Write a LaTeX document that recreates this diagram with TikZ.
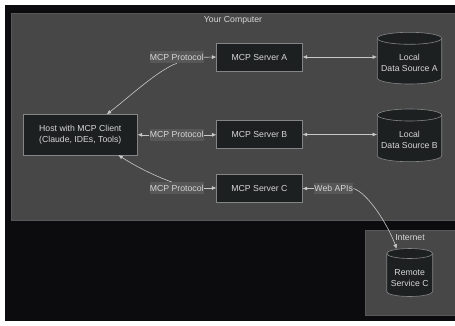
\documentclass[tikz,border=0pt]{standalone}
\usepackage{fontspec}
\setmainfont{Liberation Sans}
\usetikzlibrary{arrows.meta,calc}
\definecolor{bgdark}{HTML}{0C0C0F}
\definecolor{clus}{HTML}{474747}
\definecolor{clusline}{HTML}{575757}
\definecolor{nodefill}{HTML}{1C2021}
\definecolor{nodeline}{HTML}{858585}
\definecolor{txtc}{HTML}{D6D6D6}
\definecolor{lblbg}{HTML}{575757}
\definecolor{wire}{HTML}{C8C8C8}
\newcommand\mycyl[5]{%
  \pgfmathsetmacro\cyXl{#1-#2}\pgfmathsetmacro\cyXr{#1+#2}%
  \pgfmathsetmacro\cyKx{0.5523*#2}\pgfmathsetmacro\cyKy{0.5523*#5}%
  \pgfmathsetmacro\cyYb{#4+#5}%
  \pgfmathsetmacro\cyXa{#1-\cyKx}\pgfmathsetmacro\cyXc{#1+\cyKx}%
  \pgfmathsetmacro\cyYk{#4+\cyKy}%
  \filldraw[cyl] (\cyXl,#3) -- (\cyXl,#4) .. controls (\cyXl,\cyYk) and (\cyXa,\cyYb) .. (#1,\cyYb) .. controls (\cyXc,\cyYb) and (\cyXr,\cyYk) .. (\cyXr,#4) -- (\cyXr,#3);
  \filldraw[cyl] (#1,#3) ellipse [x radius=#2pt, y radius=#5pt];
}
\begin{document}
\begin{tikzpicture}[x=1pt,y=-1pt,
  font=\fontsize{8.7}{11.3}\selectfont,
  box/.style={draw=nodeline, fill=nodefill, text=txtc, line width=0.6pt, align=center, inner sep=0pt},
  cylbox/.style={text=txtc, align=center, inner sep=0pt},
  elabel/.style={fill=lblbg, text=txtc, inner xsep=0.3pt, inner ysep=0pt, minimum height=11.7pt},
  conn/.style={draw=wire, line width=0.6pt, -{Latex[length=4.5pt,width=4pt]}},
  bconn/.style={draw=wire, line width=0.6pt, {Latex[length=4.5pt,width=4pt]}-{Latex[length=4.5pt,width=4pt]}},
  cyl/.style={draw=nodeline, fill=nodefill, line width=0.6pt},
  clusterbox/.style={fill=clus, draw=clusline, line width=0.6pt},
  ctitle/.style={text=txtc, inner sep=0pt}
]
\useasboundingbox (0,0) rectangle (455,325);
\fill[white] (0,0) rectangle (455,325);
\fill[bgdark] (5,5) rectangle (456,321);
% clusters
\path[clusterbox] (11,13) rectangle (457,220.7);
\path[clusterbox] (365,230.7) rectangle (457,315);
\node[ctitle] (tyc) at (233,20) {Your Computer};
\node[ctitle] (tin) at (410,237.5) {Internet};
% cylinders
\mycyl{409.5}{32.2}{38.3}{78}{6}
\mycyl{409.5}{32.2}{115}{155.7}{6}
\mycyl{409.7}{23}{253.5}{291.5}{5}
% nodes
\node[box, minimum width=114pt, minimum height=40.7pt] (host) at (80.3,134.7) {Host with MCP Client\\(Claude, IDEs, Tools)};
\node[box, minimum width=85.6pt, minimum height=27.7pt] (sa) at (259.5,57) {MCP Server A};
\node[box, minimum width=85.6pt, minimum height=27.7pt] (sb) at (259.5,134.5) {MCP Server B};
\node[box, minimum width=85.6pt, minimum height=27.7pt] (sc) at (259.5,188) {MCP Server C};
\node[cylbox, minimum width=64.4pt, minimum height=40pt] (dsa) at (409.5,62.8) {Local\\Data Source A};
\node[cylbox, minimum width=64.4pt, minimum height=40pt] (dsb) at (409.5,140) {Local\\Data Source B};
\node[cylbox, minimum width=46pt, minimum height=36pt] (rsc) at (409.7,278) {Remote\\Service C};
\coordinate (rctop) at (396.7,248.8);
\coordinate (hA) at (106.7,114.3);
\coordinate (hC) at (118.3,155);
% edge labels
\node[elabel] (la) at (176.7,57.3) {MCP Protocol};
\node[elabel] (lb) at (176.7,134.8) {MCP Protocol};
\node[elabel] (lc) at (176.7,188) {MCP Protocol};
\node[elabel] (lw) at (333.7,188.5) {Web APIs};
% connectors
\draw[conn] (la.east) -- (sa.west);
\draw[conn] (la.south) .. controls (158,70) and (128,98) .. (hA);
\draw[conn] (lb.west) -- (lb.west -| host.east);
\draw[conn] (lb.east) -- (lb.east -| sb.west);
\draw[conn] (lc.east) -- (lc.east -| sc.west);
\draw[conn] ($(lc.north)+(-5,0)$) .. controls (160,178) and (138,168) .. (hC);
\draw[bconn] (sa.east) -- (sa.east -| dsa.west);
\draw[bconn] (sb.east) -- (sb.east -| dsb.west);
\draw[conn] (lw.west) -- (lw.west -| sc.east);
\draw[conn] (lw.east) .. controls (368,193) and (388,225) .. (rctop);
\end{tikzpicture}
\end{document}
